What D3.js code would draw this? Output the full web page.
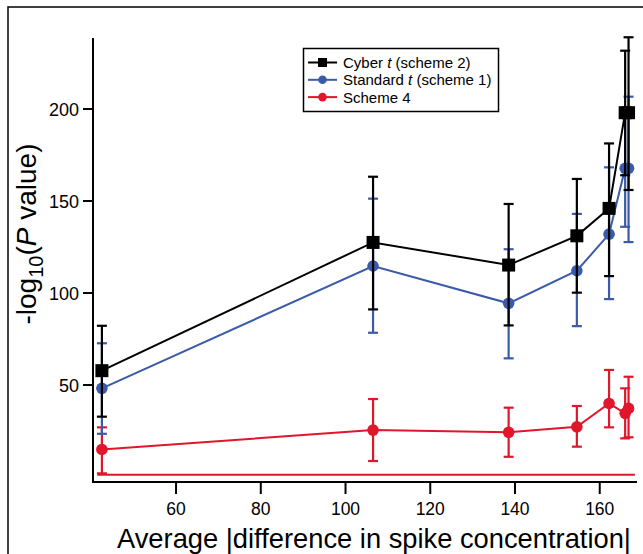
<!DOCTYPE html>
<html><head><meta charset="utf-8">
<script src="https://cdn.jsdelivr.net/npm/d3@7"></script>
<style>body{margin:0;background:#fff}svg{display:block;font-family:"Liberation Sans",Arial,sans-serif}</style>
</head><body><svg id="c" width="643" height="554"></svg>
<script>
const xTicks = [60, 80, 100, 120, 140, 160];
const yTicks = [50, 100, 150, 200];

const cyberX  = [42.5, 106.5, 138.5, 154.6, 162.2, 166.0, 166.8];
const cyberY  = [57.8, 127.5, 115.2, 131.1, 146.0, 198.0, 198.0];
const cyberLo = [32.8, 91.1, 82.4, 100.2, 109.2, 164.0, 156.0];
const cyberHi = [82.2, 163.2, 148.4, 162.0, 181.3, 231.7, 239.0];

const stdX  = [42.5, 106.5, 138.5, 154.6, 162.2, 166.0, 166.8];
const stdY  = [48.2, 114.7, 94.4, 112.1, 132.0, 167.8, 167.8];
const stdLo = [23.5, 78.4, 64.5, 82.0, 96.7, 136.0, 127.7];
const stdHi = [72.7, 151.3, 123.8, 143.0, 168.3, 200.0, 206.7];

const s4X  = [42.5, 106.5, 138.5, 154.6, 162.2, 166.0, 166.8];
const s4Y  = [15.0, 25.5, 24.3, 27.3, 40.0, 34.6, 37.3];
const s4Lo = [2.0, 8.7, 11.0, 16.5, 27.0, 21.0, 21.6];
const s4Hi = [27.0, 42.4, 37.7, 38.6, 58.2, 48.2, 54.5];

const threshold = 1.3; // -log10(0.05)
const thresholdRange = [41.4, 168.3];

const svg = d3.select("#c");
const x = d3.scaleLinear().domain([40.4, 172.1]).range([93, 651]);
const y = d3.scaleLinear().domain([-2.7, 238.6]).range([482, 38]);

// frame
svg.append("rect").attr("x", 8).attr("y", 7).attr("width", 700).attr("height", 600)
  .attr("fill", "none").attr("stroke", "#000").attr("stroke-width", 1.5);

// axes
const ax = svg.append("g").attr("stroke", "#000");
ax.append("line").attr("x1", 93).attr("x2", 93).attr("y1", 38).attr("y2", 483).attr("stroke-width", 2);
ax.append("line").attr("x1", 92).attr("x2", 637).attr("y1", 482).attr("y2", 482).attr("stroke-width", 2);
yTicks.forEach(t => {
  ax.append("line").attr("x1", 83).attr("x2", 93).attr("y1", y(t)).attr("y2", y(t)).attr("stroke-width", 2);
  svg.append("text").attr("x", 79).attr("y", y(t)).attr("dy", "0.36em").attr("text-anchor", "end")
    .attr("font-size", 18).text(t);
});
xTicks.forEach(t => {
  ax.append("line").attr("x1", x(t)).attr("x2", x(t)).attr("y1", 482).attr("y2", 494).attr("stroke-width", 2);
  svg.append("text").attr("x", x(t)).attr("y", 515).attr("text-anchor", "middle")
    .attr("font-size", 17.5).text(t);
});

// threshold line
svg.append("line").attr("x1", x(thresholdRange[0])).attr("x2", x(thresholdRange[1]))
  .attr("y1", y(threshold)).attr("y2", y(threshold)).attr("stroke", "#e0162b").attr("stroke-width", 2);

function series(xs, ys, lo, hi, color, shape, capW) {
  const g = svg.append("g");
  const pts = xs.map((v, i) => [x(v), y(ys[i])]);
  g.append("path").attr("d", d3.line()(pts)).attr("fill", "none").attr("stroke", color).attr("stroke-width", 2);
  xs.forEach((v, i) => {
    const cx = x(v);
    g.append("line").attr("x1", cx).attr("x2", cx).attr("y1", y(lo[i])).attr("y2", y(hi[i]))
      .attr("stroke", color).attr("stroke-width", 2.2);
    [lo[i], hi[i]].forEach(e => g.append("line").attr("x1", cx - capW / 2).attr("x2", cx + capW / 2)
      .attr("y1", y(e)).attr("y2", y(e)).attr("stroke", color).attr("stroke-width", 2.2));
  });
  xs.forEach((v, i) => {
    if (shape === "square") g.append("rect").attr("x", x(v) - 6.5).attr("y", y(ys[i]) - 6.5)
      .attr("width", 13).attr("height", 13).attr("fill", color);
    else g.append("circle").attr("cx", x(v)).attr("cy", y(ys[i])).attr("r", 5.8).attr("fill", color);
  });
}
series(s4X, s4Y, s4Lo, s4Hi, "#e0162b", "circle", 10);
series(stdX, stdY, stdLo, stdHi, "#3a5ba8", "circle", 10);
series(cyberX, cyberY, cyberLo, cyberHi, "#000", "square", 10);

// legend
const lg = svg.append("g");
lg.append("rect").attr("x", 303.5).attr("y", 48.5).attr("width", 195).attr("height", 63)
  .attr("fill", "#fff").attr("stroke", "#000").attr("stroke-width", 1.5);
const items = [
  {c: "#000", s: "square", parts: [["Cyber ", false], ["t", true], [" (scheme 2)", false]]},
  {c: "#3a5ba8", s: "circle", parts: [["Standard ", false], ["t", true], [" (scheme 1)", false]]},
  {c: "#e0162b", s: "circle", parts: [["Scheme 4", false]]}
];
items.forEach((it, i) => {
  const yy = 62.5 + i * 17.3;
  lg.append("line").attr("x1", 308).attr("x2", 337).attr("y1", yy).attr("y2", yy).attr("stroke", it.c).attr("stroke-width", 2);
  if (it.s === "square") lg.append("rect").attr("x", 318).attr("y", yy - 4.5).attr("width", 9).attr("height", 9).attr("fill", it.c);
  else lg.append("circle").attr("cx", 322.5).attr("cy", yy).attr("r", 4.3).attr("fill", it.c);
  const t = lg.append("text").attr("x", 343).attr("y", yy).attr("dy", "0.36em").attr("font-size", 15);
  it.parts.forEach(p => t.append("tspan").attr("font-style", p[1] ? "italic" : "normal").text(p[0]));
});

// y label
const yl = svg.append("text").attr("transform", "translate(36,234) rotate(-90)")
  .attr("text-anchor", "middle").attr("font-size", 28);
yl.append("tspan").text("-log");
yl.append("tspan").attr("font-size", 20).attr("dy", 7).text("10");
yl.append("tspan").attr("dy", -7).text("(");
yl.append("tspan").attr("font-style", "italic").text("P");
yl.append("tspan").text(" value)");

// x label
svg.append("text").attr("x", 117).attr("y", 548).attr("font-size", 27.3)
  .text("Average |difference in spike concentration|");
</script></body></html>
